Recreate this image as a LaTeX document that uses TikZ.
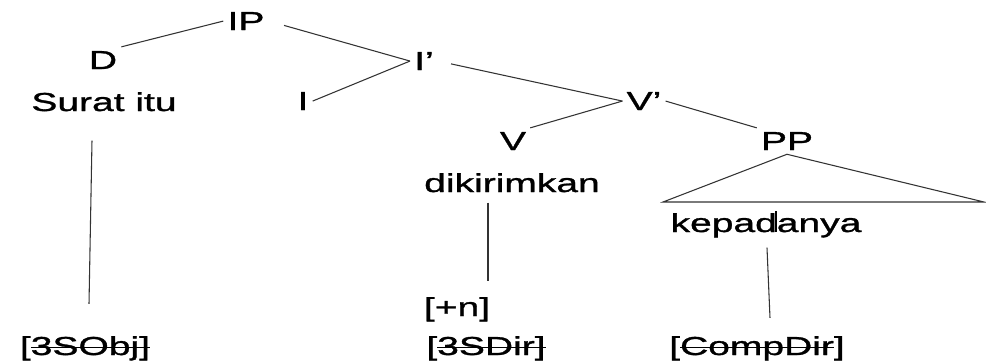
\documentclass[tikz,border=0pt]{standalone}
\usepackage{fontspec}
\setmainfont{Liberation Sans}[FakeStretch=1.5, FakeBold=1.2]
\usetikzlibrary{positioning}

% struck-out feature text
\newcommand{\strk}[1]{\setbox0\hbox{#1}\rlap{\rule[0.5ex]{\wd0}{1.1pt}}\box0}

\tikzset{
  cat/.style={inner sep=3pt, anchor=base, font=\fontsize{19.5}{23}\selectfont},
  branch/.style={draw=black!80, line width=0.8pt},
  stem/.style={draw=black!80, line width=0.8pt}
}

\begin{document}
\begin{tikzpicture}[x=0.75pt, y=-0.75pt]
    \useasboundingbox (0,0) rectangle (986,362);

        % Define category nodes of the tree
        \node[cat] (ip) at (246,30) {IP};
        \node[cat] (d) at (103,69) {D};
        \node[cat] (ibar) at (424,70) {I'};
        \node[cat] (i) at (303,110) {I};
        \node[cat] (vbar) at (644,110) {V'};
        \node[cat] (v) at (513,150) {V};
        \node[cat] (pp) at (787,150) {PP};

        % Define word nodes
        \node[cat] (surat) at (104,111) {Surat itu};
        \node[cat] (verb) at (512,192) {dikirimkan};
        \node[cat] (kepada) at (766,232)
            {kepad\rlap{\kern-1.2pt\rule{1.3pt}{16pt}}anya};

        % Define feature nodes at the bottom
        \node[cat] (plusn) at (457,316) {[+n]};
        \node[cat] (obj) at (85,355) {[\strk{3SObj]}};
        \node[cat] (dir) at (486,355) {[\strk{3SDir]}};
        \node[cat] (comp) at (757,355) {[\strk{CompDir}]};

        % Draw branches of the tree
        \draw[branch] (ip.west) -- (d.north east);
        \draw[branch, shorten <=12] (ip.east) -- (ibar.west);
        \draw[branch] (ibar.west) -- (i.east);
        \draw[branch, shorten <=10] (ibar.east) -- (vbar.west);
        \draw[branch] (vbar.west) -- (v.north east);
        \draw[branch] (vbar.east) -- (pp.north west);

        % Triangle under PP
        \coordinate (tl) at (663,202);
        \coordinate (tr) at (984,202);
        \draw[branch] (pp.south) -- (tl) -- (tr) -- cycle;

        % Draw links from words down to features
        \draw[stem] ([shift={(-12,25)}]surat.south) -- ([shift={(4,-28)}]obj.north);
        \draw[stem] ([shift={(-24,6)}]verb.south) -- ([shift={(31,-12)}]plusn.north);
        \draw[stem] ([shift={(1,6)}]kepada.south) -- ([shift={(13,-14)}]comp.north);

\end{tikzpicture}
\end{document}
